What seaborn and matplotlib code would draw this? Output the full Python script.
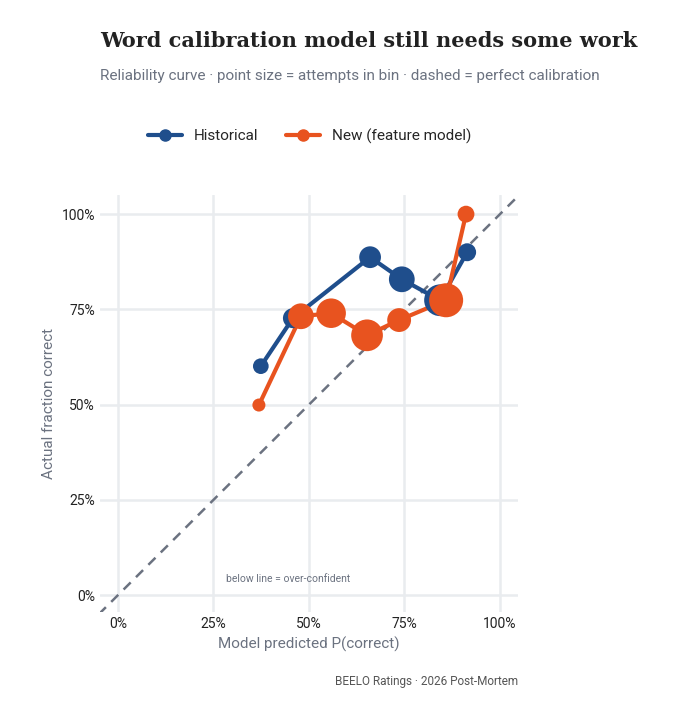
import pandas as pd
import matplotlib.pyplot as plt
import seaborn as sns
from matplotlib.lines import Line2D

# reliability bins
hist_pred = [37.4, 45.8, 66.0, 74.3, 84.3, 91.4]
hist_actual = [60.1, 72.7, 88.7, 82.9, 77.4, 90.0]
hist_attempts = [12, 20, 24, 34, 52, 16]

new_pred = [36.9, 47.9, 55.8, 65.2, 73.6, 85.9, 91.1]
new_actual = [49.9, 73.2, 74.0, 68.2, 72.2, 77.4, 100.0]
new_attempts = [8, 34, 45, 52, 29, 60, 14]

colors = {"Historical": "#1f4e8c", "New (feature model)": "#e8531f"}

df = pd.concat([
    pd.DataFrame({"pred": hist_pred, "actual": hist_actual, "n": hist_attempts, "model": "Historical"}),
    pd.DataFrame({"pred": new_pred, "actual": new_actual, "n": new_attempts, "model": "New (feature model)"}),
], ignore_index=True)

sns.set_style("white")
plt.rcParams['font.family'] = ['Roboto', 'DejaVu Sans']

fig = plt.figure(figsize=(6.99, 7.12), dpi=100)
ax = fig.add_axes([0.143, 0.140, 0.598, 0.586])

ax.plot([-5, 105], [-5, 105], ls=(0, (4, 3)), color="#6b7280", lw=1.8, zorder=1)

for name, sub in df.groupby("model", sort=False):
    sns.lineplot(data=sub, x="pred", y="actual", sort=False, color=colors[name],
                 lw=3, ax=ax, zorder=2, legend=False)
    sns.scatterplot(data=sub, x="pred", y="actual", size="n", sizes=(88, 600),
                    size_norm=(8, 60), color=colors[name], edgecolor="none",
                    ax=ax, zorder=3, legend=False)

ax.set_xlim(-4.7, 104.7)
ax.set_ylim(-4.5, 105)
ticks = [0, 25, 50, 75, 100]
ax.set_xticks(ticks)
ax.set_yticks(ticks)
ax.set_xticklabels([f"{t}%" for t in ticks])
ax.set_yticklabels([f"{t}%" for t in ticks])
ax.tick_params(length=0, labelsize=10, colors="#222222")
ax.grid(True, color="#e9ecef", lw=1.8)
for s in ax.spines.values():
    s.set_visible(False)
ax.set_xlabel("Model predicted P(correct)", fontsize=11, color="#6b7280")
ax.set_ylabel("Actual fraction correct", fontsize=11, color="#6b7280")

ax.text(44.5, 4.2, "below line = over-confident", fontsize=7.5, color="#6b7280",
        ha="center", va="center")

fig.text(0.143, 0.942, "Word calibration model still needs some work", fontsize=15,
         fontweight="bold", family=["DejaVu Serif"], color="#222222", va="center")
fig.text(0.143, 0.893, "Reliability curve · point size = attempts in bin · dashed = perfect calibration",
         fontsize=11, color="#6b7280", va="center")
fig.text(0.741, 0.043, "BEELO Ratings · 2026 Post-Mortem", fontsize=8.5,
         color="#555555", ha="right", va="center")

handles = [Line2D([0], [0], color=c, lw=3, marker="o", markersize=8) for c in colors.values()]
fig.legend(handles, list(colors.keys()), loc="center", bbox_to_anchor=(0.443, 0.809),
           ncol=2, frameon=False, fontsize=11, handlelength=2.2, columnspacing=1.8)

fig.savefig("out.png", dpi=100)
